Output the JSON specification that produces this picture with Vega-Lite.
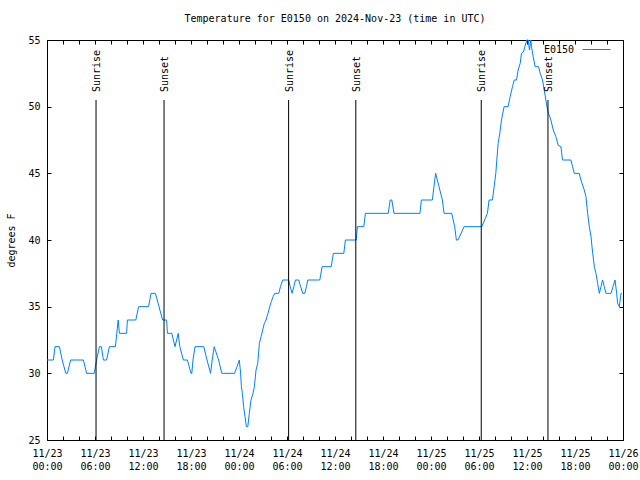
{
  "$schema": "https://vega.github.io/schema/vega-lite/v6.json",
  "width": 576,
  "height": 400,
  "autosize": "none",
  "padding": {"left": 47, "top": 40, "right": 17, "bottom": 40},
  "background": "white",
  "title": {"text": "Temperature for E0150 on 2024-Nov-23 (time in UTC)", "font": "DejaVu Sans Mono", "fontSize": 10, "fontWeight": "normal", "color": "black", "offset": 11, "anchor": "middle"},
  "config": {
    "view": {"stroke": "black", "strokeWidth": 1},
    "axis": {"grid": false, "domain": false, "tickColor": "black", "labelColor": "black", "labelFont": "DejaVu Sans Mono", "labelFontSize": 10, "titleFont": "DejaVu Sans Mono", "titleFontSize": 10, "titleFontWeight": "normal", "titleColor": "black"}
  },
  "datasets": {
    "temp": [
      {"hours": 0, "temp": 31}, {"hours": 0.8, "temp": 31}, {"hours": 1.0, "temp": 32}, {"hours": 1.55, "temp": 32},
      {"hours": 1.9, "temp": 31}, {"hours": 2.35, "temp": 30}, {"hours": 2.55, "temp": 30}, {"hours": 2.95, "temp": 31},
      {"hours": 4.55, "temp": 31}, {"hours": 4.95, "temp": 30}, {"hours": 5.9, "temp": 30}, {"hours": 6.2, "temp": 31},
      {"hours": 6.55, "temp": 32}, {"hours": 6.8, "temp": 32}, {"hours": 7.05, "temp": 31}, {"hours": 7.45, "temp": 31},
      {"hours": 7.8, "temp": 32}, {"hours": 8.55, "temp": 32}, {"hours": 8.72, "temp": 33}, {"hours": 8.9, "temp": 34},
      {"hours": 9.05, "temp": 33}, {"hours": 9.95, "temp": 33}, {"hours": 10.05, "temp": 34}, {"hours": 11.1, "temp": 34},
      {"hours": 11.45, "temp": 35}, {"hours": 12.7, "temp": 35}, {"hours": 13.0, "temp": 36}, {"hours": 13.55, "temp": 36},
      {"hours": 14.0, "temp": 35}, {"hours": 14.45, "temp": 34}, {"hours": 14.95, "temp": 34}, {"hours": 15.05, "temp": 33},
      {"hours": 15.6, "temp": 33}, {"hours": 16.0, "temp": 32}, {"hours": 16.4, "temp": 33}, {"hours": 16.6, "temp": 32},
      {"hours": 17.05, "temp": 31}, {"hours": 17.55, "temp": 31}, {"hours": 18.0, "temp": 30}, {"hours": 18.1, "temp": 30},
      {"hours": 18.25, "temp": 31}, {"hours": 18.5, "temp": 32}, {"hours": 19.6, "temp": 32}, {"hours": 20.0, "temp": 31},
      {"hours": 20.45, "temp": 30}, {"hours": 20.65, "temp": 31}, {"hours": 20.9, "temp": 32}, {"hours": 21.45, "temp": 31},
      {"hours": 21.85, "temp": 30}, {"hours": 23.45, "temp": 30}, {"hours": 23.75, "temp": 30.5}, {"hours": 24.04, "temp": 31},
      {"hours": 24.2, "temp": 30}, {"hours": 24.3, "temp": 29}, {"hours": 24.42, "temp": 28.5}, {"hours": 24.58, "temp": 27.5},
      {"hours": 24.75, "temp": 26.75}, {"hours": 24.92, "temp": 26}, {"hours": 25.1, "temp": 26}, {"hours": 25.29, "temp": 27},
      {"hours": 25.5, "temp": 28}, {"hours": 25.75, "temp": 28.5}, {"hours": 25.92, "temp": 29}, {"hours": 26.13, "temp": 30.25},
      {"hours": 26.34, "temp": 30.75}, {"hours": 26.55, "temp": 32.25}, {"hours": 26.76, "temp": 32.75}, {"hours": 26.96, "temp": 33.25},
      {"hours": 27.17, "temp": 33.75}, {"hours": 27.38, "temp": 34}, {"hours": 27.63, "temp": 34.5}, {"hours": 27.84, "temp": 35},
      {"hours": 28.05, "temp": 35.4}, {"hours": 28.26, "temp": 35.75}, {"hours": 28.47, "temp": 36}, {"hours": 28.97, "temp": 36},
      {"hours": 29.18, "temp": 36.5}, {"hours": 29.47, "temp": 37}, {"hours": 30.22, "temp": 37}, {"hours": 30.4, "temp": 36.5},
      {"hours": 30.64, "temp": 36}, {"hours": 30.85, "temp": 36.5}, {"hours": 31.05, "temp": 37}, {"hours": 31.47, "temp": 37},
      {"hours": 31.7, "temp": 36.5}, {"hours": 31.97, "temp": 36}, {"hours": 32.22, "temp": 36}, {"hours": 32.43, "temp": 36.5},
      {"hours": 32.6, "temp": 37}, {"hours": 34.1, "temp": 37}, {"hours": 34.39, "temp": 38}, {"hours": 35.52, "temp": 38},
      {"hours": 35.8, "temp": 39}, {"hours": 37.1, "temp": 39}, {"hours": 37.3, "temp": 40}, {"hours": 38.65, "temp": 40},
      {"hours": 38.8, "temp": 41}, {"hours": 39.6, "temp": 41}, {"hours": 39.8, "temp": 42}, {"hours": 42.66, "temp": 42},
      {"hours": 42.9, "temp": 43}, {"hours": 43.1, "temp": 43}, {"hours": 43.37, "temp": 42}, {"hours": 46.62, "temp": 42},
      {"hours": 46.8, "temp": 43}, {"hours": 48.17, "temp": 43}, {"hours": 48.37, "temp": 44}, {"hours": 48.58, "temp": 45},
      {"hours": 48.79, "temp": 44.5}, {"hours": 49.0, "temp": 44}, {"hours": 49.42, "temp": 43}, {"hours": 49.63, "temp": 42},
      {"hours": 50.59, "temp": 42}, {"hours": 50.96, "temp": 41}, {"hours": 51.17, "temp": 40}, {"hours": 51.38, "temp": 40},
      {"hours": 52.13, "temp": 41}, {"hours": 54.35, "temp": 41}, {"hours": 55.05, "temp": 42}, {"hours": 55.26, "temp": 43},
      {"hours": 55.68, "temp": 43}, {"hours": 55.89, "temp": 44}, {"hours": 56.1, "temp": 45}, {"hours": 56.23, "temp": 46},
      {"hours": 56.39, "temp": 47.25}, {"hours": 56.6, "temp": 48}, {"hours": 56.81, "temp": 49}, {"hours": 57.14, "temp": 50},
      {"hours": 57.64, "temp": 50}, {"hours": 57.89, "temp": 50.75}, {"hours": 58.19, "temp": 51.5}, {"hours": 58.4, "temp": 52},
      {"hours": 58.69, "temp": 52}, {"hours": 58.89, "temp": 52.75}, {"hours": 59.15, "temp": 53.25}, {"hours": 59.31, "temp": 54},
      {"hours": 59.56, "temp": 54.1}, {"hours": 59.73, "temp": 54.5}, {"hours": 59.98, "temp": 55}, {"hours": 60.15, "temp": 55},
      {"hours": 60.31, "temp": 54.25}, {"hours": 60.48, "temp": 55}, {"hours": 60.56, "temp": 54.5}, {"hours": 60.77, "temp": 53.75},
      {"hours": 61.02, "temp": 53}, {"hours": 61.44, "temp": 53}, {"hours": 61.65, "temp": 52.5}, {"hours": 61.94, "temp": 52},
      {"hours": 62.15, "temp": 51.25}, {"hours": 62.36, "temp": 50.5}, {"hours": 62.49, "temp": 50}, {"hours": 62.69, "temp": 49.5},
      {"hours": 62.99, "temp": 49}, {"hours": 63.28, "temp": 48.25}, {"hours": 63.61, "temp": 47.75}, {"hours": 63.9, "temp": 47.1},
      {"hours": 64.24, "temp": 47}, {"hours": 64.44, "temp": 46}, {"hours": 65.49, "temp": 46}, {"hours": 65.7, "temp": 45.5},
      {"hours": 65.91, "temp": 45}, {"hours": 66.53, "temp": 45}, {"hours": 66.74, "temp": 44.5}, {"hours": 67.16, "temp": 43.75},
      {"hours": 67.37, "temp": 43.25}, {"hours": 67.58, "temp": 42}, {"hours": 67.79, "temp": 41}, {"hours": 68.0, "temp": 40.25},
      {"hours": 68.21, "temp": 39}, {"hours": 68.42, "temp": 38}, {"hours": 68.62, "temp": 37.5}, {"hours": 68.83, "temp": 36.75},
      {"hours": 69.04, "temp": 36}, {"hours": 69.25, "temp": 36.5}, {"hours": 69.45, "temp": 37}, {"hours": 69.66, "temp": 36.5},
      {"hours": 69.87, "temp": 36}, {"hours": 70.5, "temp": 36}, {"hours": 70.75, "temp": 36.5}, {"hours": 71.0, "temp": 37},
      {"hours": 71.21, "temp": 36}, {"hours": 71.33, "temp": 35.25}, {"hours": 71.54, "temp": 35}, {"hours": 71.75, "temp": 36},
      {"hours": 71.84, "temp": 36}
    ],
    "sun": [
      {"hours": 6.13, "event": "Sunrise"},
      {"hours": 14.63, "event": "Sunset"},
      {"hours": 30.2, "event": "Sunrise"},
      {"hours": 38.6, "event": "Sunset"},
      {"hours": 54.28, "event": "Sunrise"},
      {"hours": 62.62, "event": "Sunset"}
    ]
  },
  "layer": [
    {
      "data": {"name": "temp"},
      "mark": {"type": "line", "strokeWidth": 1},
      "encoding": {
        "x": {
          "field": "hours", "type": "quantitative",
          "scale": {"domain": [0, 72], "nice": false, "zero": false},
          "axis": {
            "orient": "bottom", "title": null, "offset": -4,
            "values": [0, 2, 4, 6, 8, 10, 12, 14, 16, 18, 20, 22, 24, 26, 28, 30, 32, 34, 36, 38, 40, 42, 44, 46, 48, 50, 52, 54, 56, 58, 60, 62, 64, 66, 68, 70, 72],
            "labelExpr": "datum.value % 6 == 0 ? ['11/' + (23 + floor(datum.value / 24)), ((datum.value % 24) < 10 ? '0' : '') + (datum.value % 24) + ':00'] : ''",
            "tickSize": 4,
            "labelOverlap": false, "labelFlush": false, "labelPadding": 8, "labelLineHeight": 13
          }
        },
        "y": {
          "field": "temp", "type": "quantitative",
          "scale": {"domain": [25, 55], "nice": false, "zero": false},
          "axis": {"orient": "left", "title": "degrees F", "offset": -4, "values": [25, 30, 35, 40, 45, 50, 55], "tickSize": 4, "labelPadding": 7, "titlePadding": 11}
        },
        "color": {
          "datum": "E0150",
          "scale": {"range": ["#0080ff"]},
          "legend": {"orient": "none", "legendX": 535, "legendY": -5, "title": null, "symbolType": "stroke", "symbolSize": 784, "symbolStrokeWidth": 1, "labelAlign": "right", "labelOffset": -37, "labelFont": "DejaVu Sans Mono", "labelFontSize": 10, "labelColor": "black"}
        }
      }
    },
    {
      "data": {"name": "sun"},
      "mark": {"type": "rule", "color": "black", "strokeWidth": 1},
      "encoding": {
        "x": {
          "field": "hours", "type": "quantitative",
          "axis": {
            "orient": "top", "title": null, "labels": false, "tickSize": 4, "offset": -4,
            "values": [0, 2, 4, 6, 8, 10, 12, 14, 16, 18, 20, 22, 24, 26, 28, 30, 32, 34, 36, 38, 40, 42, 44, 46, 48, 50, 52, 54, 56, 58, 60, 62, 64, 66, 68, 70, 72]
          }
        },
        "y": {"datum": 25, "type": "quantitative", "axis": {"orient": "right", "title": null, "labels": false, "tickSize": 4, "offset": -4, "values": [25, 30, 35, 40, 45, 50, 55]}},
        "y2": {"datum": 50.5}
      }
    },
    {
      "data": {"name": "sun"},
      "mark": {"type": "text", "angle": 270, "align": "left", "baseline": "middle", "dx": 8, "dy": 1, "font": "DejaVu Sans Mono", "fontSize": 10, "color": "black"},
      "encoding": {
        "x": {"field": "hours", "type": "quantitative", "axis": null},
        "y": {"datum": 50.5, "type": "quantitative", "axis": null},
        "text": {"field": "event"}
      }
    }
  ],
  "resolve": {"axis": {"x": "independent", "y": "independent"}}
}
